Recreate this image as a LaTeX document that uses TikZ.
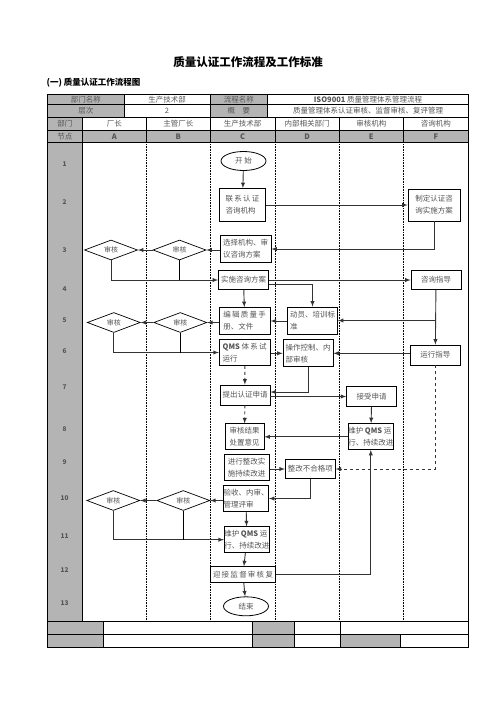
\documentclass[tikz,border=0pt]{standalone}
\usepackage{fontspec}
\setmainfont{Noto Sans CJK SC}
\usepackage{tikz}
\usetikzlibrary{calc,arrows,shapes.geometric}
\definecolor{hdrgray}{RGB}{180,180,180}
\definecolor{txtgray}{RGB}{85,85,85}

\begin{document}
\begin{tikzpicture}[x=1pt,y=-1pt,
	cell/.style={font=\fontsize{7.5}{9}\selectfont,text=txtgray,inner sep=0pt},
	box/.style={draw,line width=0.8pt,inner sep=0pt,text=txtgray,align=left,
		font=\fontsize{7.5}{12}\selectfont,minimum height=26pt},
	term/.style={draw,ellipse,line width=0.8pt,inner sep=0pt,text=txtgray,
		font=\fontsize{7.5}{9}\selectfont,minimum width=45pt,minimum height=19pt},
	check/.style={draw,diamond,aspect=2.6,line width=0.7pt,inner sep=0pt,text=txtgray,
		font=\fontsize{7}{9}\selectfont,minimum width=53pt,minimum height=20pt},
	flow/.style={draw=black!80,line width=0.9pt,-latex},
	dflow/.style={flow,dashed},
	lane/.style={densely dotted,line width=0.6pt}]
	\useasboundingbox (0,0) rectangle (496,702);
	
	%title
	\node (title) at (248,62.5) {\fontsize{11.5}{13}\selectfont\bfseries 质量认证工作流程及工作标准};
	\node[anchor=west,inner sep=0pt] (subtitle) at (46.5,83) {\fontsize{8.5}{10}\selectfont\bfseries (一) 质量认证工作流程图};
	
	%grey cells
	\fill[hdrgray] (47.3,94) rectangle (124.3,117);
	\fill[hdrgray] (210,94) rectangle (267.5,117);
	\fill[hdrgray] (47.3,117) rectangle (82.3,621.3);
	\fill[hdrgray] (82.3,130.7) rectangle (468.3,142.3);
	\fill[hdrgray] (47.3,621.3) rectangle (103.3,647.3);
	\fill[hdrgray] (252.7,621.3) rectangle (294.3,647.3);
	\fill[hdrgray] (340,634) rectangle (400,647.3);
	
	%table lines
	\draw[line width=0.9pt] (47.3,94) rectangle (468.3,647.3);
	\foreach \y in {104.3,117,130.7,142.3,621.3,634}
		\draw[line width=0.7pt] (47.3,\y) -- (468.3,\y);
	\foreach \x in {124.3,210,267.5}
		\draw[line width=0.7pt] (\x,94) -- (\x,117);
	\foreach \x in {146.3,210.3,275,339.3,403.3}{
		\draw[line width=0.7pt] (\x,117) -- (\x,142.3);
		\draw[lane] (\x,142.3) -- (\x,621.3);
	}
	\draw[line width=0.7pt] (82.3,117) -- (82.3,621.3);
	\foreach \x in {103.3,252.7,294.3,340}
		\draw[line width=0.7pt] (\x,621.3) -- (\x,647.3);
	\draw[line width=0.7pt] (400,634) -- (400,647.3);
	
	%header texts
	\node[cell] (h11) at (85.8,99.3) {部门名称};
	\node[cell] (h12) at (167,99.3) {生产技术部};
	\node[cell] (h13) at (238.8,99.3) {流程名称};
	\node[cell] (h14) at (368,99.3) {\textbf{ISO9001} 质量管理体系管理流程};
	\node[cell] (h21) at (85.8,110.8) {层次};
	\node[cell] (h22) at (167,110.8) {2};
	\node[cell] (h23) at (238.8,110.8) {概\quad 要};
	\node[cell] (h24) at (368,110.8) {质量管理体系认证审核、监督审核、复评管理};
	\node[cell] (dept) at (64.8,124) {部门};
	\node[cell] (deptA) at (114.3,124) {厂长};
	\node[cell] (deptB) at (178.3,124) {主管厂长};
	\node[cell] (deptC) at (242.6,124) {生产技术部};
	\node[cell] (deptD) at (307.2,124) {内部相关部门};
	\node[cell] (deptE) at (371.3,124) {审核机构};
	\node[cell] (deptF) at (435.8,124) {咨询机构};
	\node[cell] (node) at (64.8,136.5) {节点};
	\node[cell] (colA) at (114.3,136.5) {\textbf{A}};
	\node[cell] (colB) at (178.3,136.5) {\textbf{B}};
	\node[cell] (colC) at (242.6,136.5) {\textbf{C}};
	\node[cell] (colD) at (307.2,136.5) {\textbf{D}};
	\node[cell] (colE) at (371.3,136.5) {\textbf{E}};
	\node[cell] (colF) at (435.8,136.5) {\textbf{F}};
	
	%node numbers
	\foreach \n/\y in {1/164,2/202,3/250,4/289,5/320.5,6/351,7/387.3,8/429.5,9/462.5,10/497.7,11/535.7,12/570,13/602.7}
		\node[cell,font=\fontsize{6.5}{8}\selectfont\bfseries] (n\n) at (64.5,\y) {\n};
	
	%flow nodes
	\node[term] (ks) at (243.5,161) {开\ 始};
	\node[box,minimum width=46pt,minimum height=33pt] (lx) at (242.5,205) {联\,系\,认\,证\\咨询机构};
	\node[box,minimum width=52pt,minimum height=32pt] (zd) at (434,205) {制定认证咨\\询实施方案};
	\node[box,minimum width=51pt,minimum height=27pt] (xz) at (245.5,249) {选择机构、审\\议咨询方案};
	\node[box,minimum width=50pt,minimum height=19pt] (ss) at (243.5,280) {实施咨询方案};
	\node[box,minimum width=50pt,minimum height=19pt] (zx) at (436,280) {咨询指导};
	\node[box,minimum width=51pt,minimum height=27pt] (bj) at (244.7,321) {编\,辑\,质\,量\,手\\册、文件};
	\node[box,minimum width=50pt,minimum height=27pt] (dy) at (312.5,320.5) {动员、培训标\\准};
	\node[box,minimum width=51pt] (sy) at (244.7,352.5) {\textbf{QMS}\ 体\,系\,试\\运行};
	\node[box,minimum width=50pt,minimum height=27pt] (cz) at (308,353.3) {操作控制、内\\部审核};
	\node[box,minimum width=50pt,minimum height=20pt] (yx) at (435.3,355) {运行指导};
	\node[box,minimum width=50pt,minimum height=20pt] (tc) at (245,395) {提出认证申请};
	\node[box,minimum width=50pt,minimum height=20pt] (js) at (371.7,396.5) {接受申请};
	\node[box,minimum width=39pt] (jg) at (244.5,436.8) {审核结果\\处置意见};
	\node[box,minimum width=45pt] (whE) at (370.8,436.5) {维护 \textbf{QMS} 运\\行、持续改进};
	\node[box,minimum width=45pt] (zg) at (246.7,467.2) {进行整改实\\施持续改进};
	\node[box,minimum width=50pt,minimum height=19pt] (bhg) at (310.3,469) {整改不合格项};
	\node[box,minimum width=45pt] (ys) at (246,498.5) {验收、内审、\\管理评审};
	\node[box,minimum width=45pt] (whC) at (246.8,539.7) {维护 \textbf{QMS} 运\\行、持续改进};
	\node[box,minimum width=64.6pt,minimum height=16pt] (yj) at (243,574.7) {迎\,接\,监\,督\,审\,核\,复};
	\node[term] (jsu) at (246,606.3) {结束};
	
	%checks
	\node[check] (shA3) at (111,250) {审核};
	\node[check] (shB3) at (179.5,250) {审核};
	\node[check] (shA5) at (113.8,322.5) {审核};
	\node[check] (shB5) at (180.3,322.5) {审核};
	\node[check] (shA10) at (113.3,500.5) {审核};
	\node[check] (shB10) at (183.3,500.5) {审核};
	
	%connectors
	\draw[flow] (ks) -- (lx);
	\draw[flow] (lx) -- (zd);
	\draw[flow] (zd.south) |- (xz.east);
	\draw[flow] (xz.west |- shB3.east) -- (shB3.east);
	\draw[flow] (shB3) -- (shA3);
	\draw[flow] (shA3.south) |- (ss.west);
	\draw[line width=0.8pt] (shB3.south) -- (shB3.south |- ss.west);
	\draw[flow] (ss) -- (zx);
	\draw[flow] (ss) -- (bj);
	\draw[flow] ([yshift=-4pt]ss.east) -| (dy.north);
	\draw[flow] (zx) -- (yx);
	\draw[flow] (zx.south |- dy.east) -- (dy.east);
	\draw[flow] (dy.west |- bj.east) -- (bj.east);
	\draw[flow] (bj.west |- shB5.east) -- (shB5.east);
	\draw[flow] (shB5) -- (shA5);
	\draw[flow] (shA5.south) |- (sy.west);
	\draw[line width=0.8pt] (shB5.south) -- (shB5.south |- sy.west);
	\draw[flow] (sy.east |- cz.west) -- (cz.west);
	\draw[flow] (yx.west |- cz.east) -- (cz.east);
	\draw[dflow] (sy) -- (tc);
	\draw[flow] (cz.south) |- ([yshift=3pt]tc.east);
	\draw[flow] (tc.east |- js.west) -- (js.west);
	\draw[dflow] (tc) -- (jg);
	\draw[flow] (js) -- (whE);
	\draw[flow] (whE.west |- jg.east) -- (jg.east);
	\draw[dflow] (yx.south) |- (bhg.east);
	\draw[flow] (zg.east |- bhg.west) -- (bhg.west);
	\draw[flow] (bhg.south) |- (ys.east);
	\draw[flow] (ys.west |- shB10.east) -- (shB10.east);
	\draw[flow] (shB10) -- (shA10);
	\draw[flow] (ys) -- (whC);
	\draw[flow] (shA10.south) |- (whC.west);
	\draw[line width=0.8pt] (shB10.south) -- (shB10.south |- whC.west);
	\draw[flow] (whC) -- (yj);
	\draw[flow] (yj) -- (jsu);
	\draw[flow] (yj.east) -| (whE.south);
\end{tikzpicture}
\end{document}
